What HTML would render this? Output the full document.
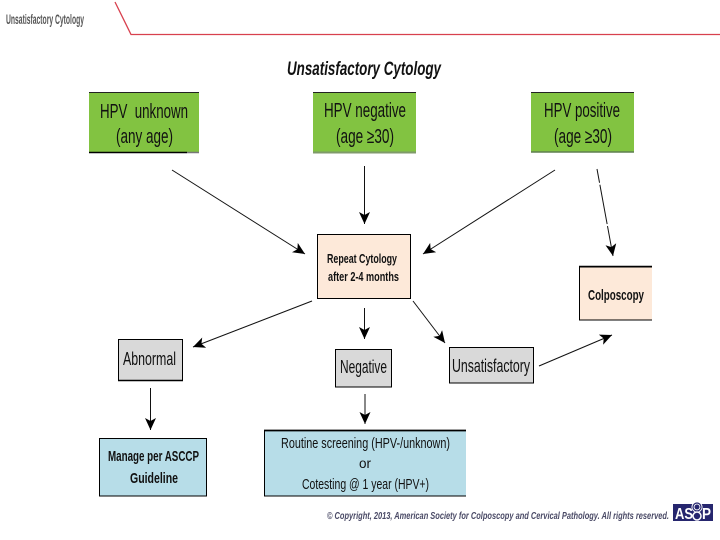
<!DOCTYPE html>
<html>
<head>
<meta charset="utf-8">
<style>
html,body{margin:0;padding:0;background:#fff;width:720px;height:540px;overflow:hidden}
svg{display:block}
text{font-family:"Liberation Sans",sans-serif;fill:#111}
</style>
</head>
<body>
<svg width="720" height="540" viewBox="0 0 720 540" xmlns="http://www.w3.org/2000/svg">
<defs>
<marker id="a" markerWidth="13" markerHeight="11" refX="12" refY="5.500" orient="auto" markerUnits="userSpaceOnUse">
<path d="M0 0L12 5.500L0 11L3 5.500Z" fill="#000"/>
</marker>
</defs>
<rect width="720" height="540" fill="#fff"/>

<text x="6" y="24" font-size="13.500" font-weight="bold" style="fill:#555" textLength="78" lengthAdjust="spacingAndGlyphs">Unsatisfactory Cytology</text>
<path d="M115 2L131 34.500H720" fill="none" stroke="#d8404e" stroke-width="1.300"/>

<text x="287" y="75" font-size="19" font-weight="bold" font-style="italic" textLength="154" lengthAdjust="spacingAndGlyphs">Unsatisfactory Cytology</text>

<!-- green boxes -->
<rect x="89" y="92.500" width="110" height="60" fill="#82c341"/>
<path d="M89 92.500H199" stroke="#222" stroke-width="1"/>
<path d="M89 152.500H187" stroke="#000" stroke-width="1.500"/>
<path d="M187 152.500H199" stroke="#777" stroke-width="1.500"/>
<text x="100" y="118" font-size="20" textLength="88" lengthAdjust="spacingAndGlyphs">HPV&#160; unknown</text>
<text x="116" y="143" font-size="20" textLength="57" lengthAdjust="spacingAndGlyphs">(any age)</text>

<rect x="313" y="92.500" width="103" height="60" fill="#82c341"/>
<path d="M313 92.500H416" stroke="#222" stroke-width="1"/>
<path d="M313 152.500H416" stroke="#7f9a6a" stroke-width="2"/>
<text x="324" y="117" font-size="20" textLength="82" lengthAdjust="spacingAndGlyphs">HPV negative</text>
<text x="336" y="143" font-size="20" textLength="58" lengthAdjust="spacingAndGlyphs">(age ≥30)</text>

<rect x="531" y="92.500" width="103" height="60" fill="#82c341"/>
<path d="M531 92.500H634" stroke="#222" stroke-width="1"/>
<path d="M531 152H634" stroke="#5f7f50" stroke-width="1.500"/>
<text x="544" y="117" font-size="20" textLength="76" lengthAdjust="spacingAndGlyphs">HPV positive</text>
<text x="554" y="143" font-size="20" textLength="58" lengthAdjust="spacingAndGlyphs">(age ≥30)</text>

<!-- peach boxes -->
<rect x="317.500" y="234.500" width="93" height="64" fill="#fde9d9" stroke="#000" stroke-width="1"/>
<text x="327" y="263" font-size="13" font-weight="bold" textLength="70" lengthAdjust="spacingAndGlyphs">Repeat Cytology</text>
<text x="328" y="281" font-size="13" font-weight="bold" textLength="71" lengthAdjust="spacingAndGlyphs">after 2-4 months</text>

<rect x="579.500" y="267" width="72.500" height="53" fill="#fde9d9"/>
<path d="M652 267H579.500V320H652" fill="none" stroke="#000" stroke-width="1"/>
<path d="M579 266.500H652" stroke="#000" stroke-width="1.500"/>
<text x="588" y="300" font-size="15" font-weight="bold" textLength="56" lengthAdjust="spacingAndGlyphs">Colposcopy</text>

<!-- gray boxes -->
<rect x="118.500" y="339.500" width="64" height="41" fill="#d9d9d9" stroke="#000" stroke-width="1"/>
<path d="M118 380.500H183" stroke="#000" stroke-width="1.500"/>
<text x="123" y="365" font-size="18" textLength="53" lengthAdjust="spacingAndGlyphs">Abnormal</text>

<rect x="335.500" y="349.500" width="56" height="37.500" fill="#d9d9d9" stroke="#000" stroke-width="1"/>
<text x="340" y="373" font-size="18" textLength="47" lengthAdjust="spacingAndGlyphs">Negative</text>

<rect x="449.500" y="347.500" width="84" height="35.500" fill="#d9d9d9" stroke="#000" stroke-width="1"/>
<text x="452" y="372" font-size="18" textLength="78" lengthAdjust="spacingAndGlyphs">Unsatisfactory</text>

<!-- blue boxes -->
<rect x="99.500" y="438.500" width="107" height="57.500" fill="#b7dde8" stroke="#000" stroke-width="1"/>
<text x="108" y="461" font-size="15" font-weight="bold" textLength="91" lengthAdjust="spacingAndGlyphs">Manage per ASCCP</text>
<text x="130" y="483" font-size="15" font-weight="bold" textLength="48" lengthAdjust="spacingAndGlyphs">Guideline</text>

<rect x="264.500" y="431" width="201.500" height="65" fill="#b7dde8"/>
<path d="M466 496H264.500V431" fill="none" stroke="#000" stroke-width="1"/>
<path d="M264 430.500H466" stroke="#000" stroke-width="1.800"/>
<text x="281" y="448" font-size="14.500" textLength="169" lengthAdjust="spacingAndGlyphs">Routine screening (HPV-/unknown)</text>
<text x="359" y="468" font-size="14" textLength="12" lengthAdjust="spacingAndGlyphs">or</text>
<text x="302" y="489" font-size="14.500" textLength="127" lengthAdjust="spacingAndGlyphs">Cotesting @ 1 year (HPV+)</text>

<!-- arrows -->
<g stroke="#111" stroke-width="1" fill="none">
<line x1="172" y1="170" x2="305" y2="254" marker-end="url(#a)"/>
<line x1="364.500" y1="166" x2="364.500" y2="224" marker-end="url(#a)"/>
<line x1="555" y1="170" x2="423" y2="254" marker-end="url(#a)"/>
<line x1="597" y1="169" x2="613" y2="256" marker-end="url(#a)" stroke-dasharray="14 2 40 2 60"/>
<line x1="312" y1="301" x2="193" y2="347" marker-end="url(#a)"/>
<line x1="364.500" y1="308" x2="364.500" y2="339" marker-end="url(#a)"/>
<line x1="413" y1="301" x2="445" y2="343" marker-end="url(#a)"/>
<line x1="150.500" y1="388" x2="150.500" y2="430" marker-end="url(#a)"/>
<line x1="365" y1="394" x2="365" y2="424" marker-end="url(#a)"/>
<line x1="539" y1="366" x2="612" y2="335" marker-end="url(#a)"/>
</g>

<!-- footer -->
<text x="327" y="519" font-size="10.500" font-style="italic" font-weight="bold" style="fill:#4a4a66" textLength="342" lengthAdjust="spacingAndGlyphs">© Copyright, 2013, American Society for Colposcopy and Cervical Pathology. All rights reserved.</text>
<rect x="673" y="504" width="40" height="17" fill="#26266e"/>
<text x="675" y="519" font-size="16" font-weight="bold" style="fill:#fff" textLength="18" lengthAdjust="spacingAndGlyphs">AS</text>
<text x="702" y="519" font-size="16" font-weight="bold" style="fill:#fff" textLength="9" lengthAdjust="spacingAndGlyphs">P</text>
<circle cx="697" cy="507" r="4" fill="none" stroke="#fff" stroke-width="3"/>
<circle cx="697" cy="507" r="4" fill="none" stroke="#26266e" stroke-width="1.200"/>
<circle cx="697" cy="516" r="4" fill="none" stroke="#fff" stroke-width="1.500"/>
</svg>
</body>
</html>
